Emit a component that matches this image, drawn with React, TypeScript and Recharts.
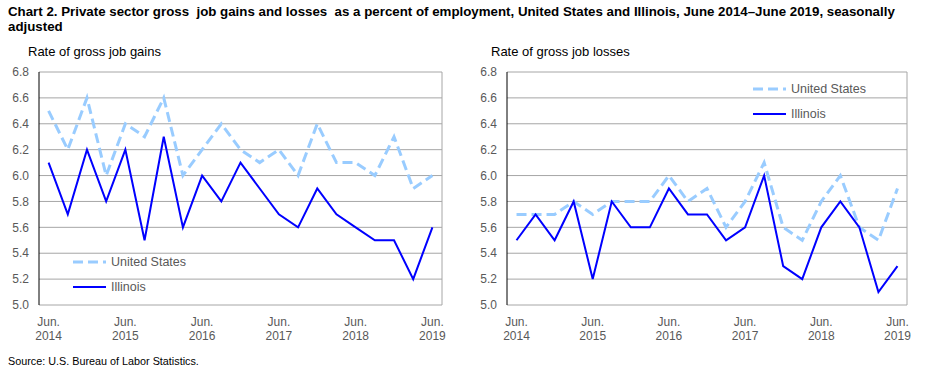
import React from 'react';
import {
  LineChart,
  Line,
  XAxis,
  YAxis,
  CartesianGrid,
  ReferenceLine,
} from 'recharts';

// quarters June 2014 .. June 2019
const QUARTERS = [
  'Jun 14', 'Sep 14', 'Dec 14', 'Mar 15', 'Jun 15', 'Sep 15', 'Dec 15', 'Mar 16',
  'Jun 16', 'Sep 16', 'Dec 16', 'Mar 17', 'Jun 17', 'Sep 17', 'Dec 17', 'Mar 18',
  'Jun 18', 'Sep 18', 'Dec 18', 'Mar 19', 'Jun 19',
];

const gainsUS = [6.5, 6.2, 6.6, 6.0, 6.4, 6.3, 6.6, 6.0, 6.2, 6.4, 6.2, 6.1, 6.2, 6.0, 6.4, 6.1, 6.1, 6.0, 6.3, 5.9, 6.0];
const gainsIL = [6.1, 5.7, 6.2, 5.8, 6.2, 5.5, 6.3, 5.6, 6.0, 5.8, 6.1, 5.9, 5.7, 5.6, 5.9, 5.7, 5.6, 5.5, 5.5, 5.2, 5.6];
const lossesUS = [5.7, 5.7, 5.7, 5.8, 5.7, 5.8, 5.8, 5.8, 6.0, 5.8, 5.9, 5.6, 5.8, 6.1, 5.6, 5.5, 5.8, 6.0, 5.6, 5.5, 5.9];
const lossesIL = [5.5, 5.7, 5.5, 5.8, 5.2, 5.8, 5.6, 5.6, 5.9, 5.7, 5.7, 5.5, 5.6, 6.0, 5.3, 5.2, 5.6, 5.8, 5.6, 5.1, 5.3];

const Y_TICKS = [5.0, 5.2, 5.4, 5.6, 5.8, 6.0, 6.2, 6.4, 6.6, 6.8];
const LABEL_IDX = [0, 4, 8, 12, 16, 20];
const LABEL_TEXT = [['Jun.', '2014'], ['Jun.', '2015'], ['Jun.', '2016'], ['Jun.', '2017'], ['Jun.', '2018'], ['Jun.', '2019']];

const US_COLOR = '#99ccff';
const IL_COLOR = '#0000ff';
const TEXT_GRAY = '#595959';
const FONT = 'Arial, "Liberation Sans", sans-serif';

// tick marks sit between quarters
const BOUNDS = [...QUARTERS.map((_, k) => k - 0.5), QUARTERS.length - 0.5];
const DOMAIN: [number, number] = [-0.5, QUARTERS.length - 0.5];

function DateTick({ x, y, payload }: any) {
  const lines = LABEL_TEXT[LABEL_IDX.indexOf(payload.value)] || ['', ''];
  return (
    <text x={x} y={y} textAnchor="middle" fill={TEXT_GRAY} fontSize={12} fontFamily={FONT}>
      <tspan x={x} dy={13}>{lines[0]}</tspan>
      <tspan x={x} dy={14}>{lines[1]}</tspan>
    </text>
  );
}

function LegendBox({ left, top }: { left: number; top: number }) {
  const items = [
    { name: 'United States', color: US_COLOR, dash: '10 5', w: 3 },
    { name: 'Illinois', color: IL_COLOR, dash: undefined, w: 2 },
  ];
  return (
    <div style={{ position: 'absolute', left, top }}>
      {items.map(it => (
        <div key={it.name} style={{ display: 'flex', alignItems: 'center', height: 25 }}>
          <svg width={39} height={6}>
            <line x1={1} y1={3} x2={34} y2={3} stroke={it.color} strokeWidth={it.w} strokeDasharray={it.dash} />
          </svg>
          <span style={{ fontSize: 12.5, color: TEXT_GRAY, fontFamily: FONT, background: '#fff', lineHeight: '14px' }}>{it.name}</span>
        </div>
      ))}
    </div>
  );
}

function Panel({ us, il, width, marginRight }: {
  us: number[]; il: number[]; width: number; marginRight: number;
}) {
  const data = QUARTERS.map((q, i) => ({ i, q, us: us[i], il: il[i] }));
  return (
    <LineChart width={width} height={290} data={data} margin={{ top: 12, right: marginRight, left: 5, bottom: 5 }}>
      <CartesianGrid vertical={false} stroke="#a6a6a6" xAxisId="m" />
      <XAxis
        xAxisId="m"
        type="number"
        dataKey="i"
        domain={DOMAIN}
        ticks={BOUNDS}
        allowDecimals
        tickFormatter={() => ''}
        height={0}
        tickSize={5}
        stroke="#000"
      />
      <XAxis
        xAxisId="l"
        type="number"
        dataKey="i"
        domain={DOMAIN}
        ticks={LABEL_IDX}
        axisLine={false}
        tickLine={false}
        height={40}
        tick={<DateTick />}
      />
      <YAxis
        domain={[5.0, 6.8]}
        ticks={Y_TICKS}
        tickFormatter={(v: number) => v.toFixed(1)}
        tickLine={false}
        tickSize={0}
        tickMargin={10}
        width={34}
        stroke="#000"
        tick={{ fill: TEXT_GRAY, fontSize: 12, fontFamily: FONT }}
      />
      <ReferenceLine xAxisId="m" x={DOMAIN[1]} stroke="#a6a6a6" />
      <Line xAxisId="m" type="linear" dataKey="us" stroke={US_COLOR} strokeWidth={3} strokeDasharray="10 5" dot={false} isAnimationActive={false} />
      <Line xAxisId="m" type="linear" dataKey="il" stroke={IL_COLOR} strokeWidth={2} dot={false} isAnimationActive={false} />
    </LineChart>
  );
}

export default function App() {
  return (
    <div style={{ position: 'absolute', left: 0, top: 0, width: 931, height: 375, background: '#fff', fontFamily: FONT, overflow: 'hidden' }}>
      <div style={{ position: 'absolute', left: 8, top: 4, fontSize: 13.3, fontWeight: 'bold', lineHeight: '15px', color: '#000', whiteSpace: 'nowrap' }}>
        Chart 2. Private sector gross&nbsp; job gains and losses&nbsp; as a percent of employment, United States and Illinois, June 2014–June 2019, seasonally
        <br />
        adjusted
      </div>
      <div style={{ position: 'absolute', left: 28, top: 44, fontSize: 13, color: '#000' }}>Rate of gross job gains</div>
      <div style={{ position: 'absolute', left: 491, top: 44, fontSize: 13, color: '#000' }}>Rate of gross job losses</div>
      <div style={{ position: 'absolute', left: 0, top: 60 }}>
        <Panel us={gainsUS} il={gainsIL} width={460} marginRight={18} />
        <LegendBox left={72} top={189} />
      </div>
      <div style={{ position: 'absolute', left: 468, top: 60 }}>
        <Panel us={lossesUS} il={lossesIL} width={463} marginRight={24} />
        <LegendBox left={284} top={16} />
      </div>
      <div style={{ position: 'absolute', left: 8, top: 355, fontSize: 10.8, color: '#000' }}>Source: U.S. Bureau of Labor Statistics.</div>
    </div>
  );
}
